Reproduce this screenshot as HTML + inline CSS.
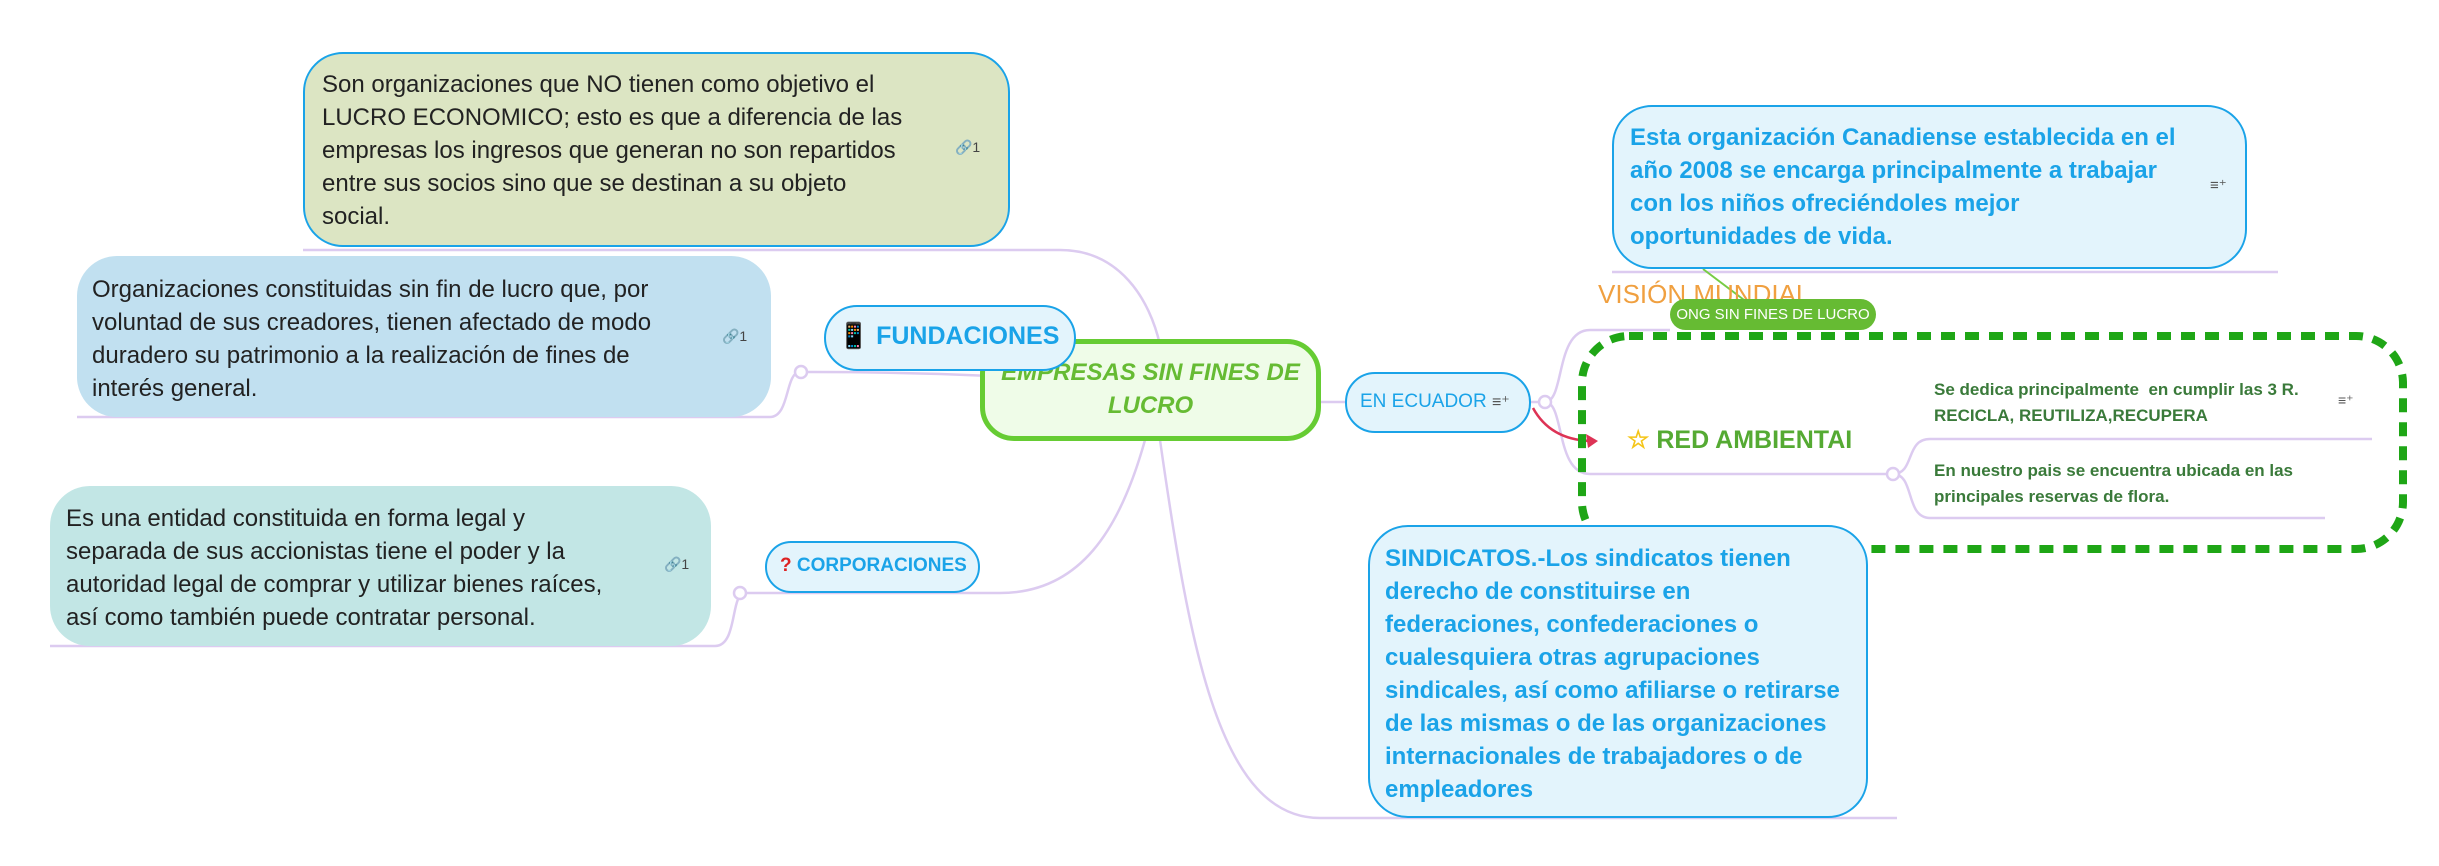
<!DOCTYPE html>
<html><head><meta charset="utf-8"><style>
body{margin:0;width:2439px;height:866px;background:#fff;position:relative;overflow:hidden;font-family:"Liberation Sans",sans-serif}
.b{position:absolute;box-sizing:border-box}
.t{position:absolute;white-space:nowrap}
</style></head><body>
<svg width="2439" height="866" style="position:absolute;left:0;top:0">
<g fill="none" stroke="#dccbf0" stroke-width="2.5">
<path d="M303 250 H1060 C1120 250 1150 300 1160 345"/>
<path d="M1150 395 C1110 375 880 372 812 372"/>
<path d="M812 372 H800 C785 372 790 417 770 417 H77"/>
<path d="M1145 440 C1120 530 1080 593 1000 593 H745 C730 593 738 646 715 646 H50"/>
<path d="M1160 440 C1190 650 1220 818 1320 818 H1897"/>
<path d="M1321 402 H1345"/>
<path d="M1531 402 H1545 C1565 402 1555 330 1590 330 H1670"/>
<path d="M1545 402 C1565 402 1555 474 1590 474 H1892"/>
<path d="M1612 272 H2278"/>
<path d="M1893 474 C1915 474 1905 439 1930 439 H2372"/>
<path d="M1893 474 C1915 474 1905 518 1930 518 H2325"/>
</g>
<g fill="#fff" stroke="#dccbf0" stroke-width="2.5">
<circle cx="801" cy="372" r="6"/><circle cx="740" cy="593" r="6"/><circle cx="1545" cy="402" r="6"/><circle cx="1893" cy="474" r="6"/>
</g>
<path d="M1533 408 C1545 430 1565 440 1590 441" fill="none" stroke="#dd3355" stroke-width="2.5"/>
<path d="M1598 441 L1586 434 L1588 448 Z" fill="#dd3355"/>
<path d="M1703 269 L1760 312" stroke="#77cc44" stroke-width="2"/>
<rect x="1582" y="336" width="821" height="213" rx="47" fill="none" stroke="#1fa616" stroke-width="8" stroke-dasharray="14 10"/>
</svg>

<div class="b" style="left:303px;top:52px;width:707px;height:195px;background:#dce5c3;border:2px solid #1aa3e8;border-radius:40px"></div>
<div class="t" style="left:322px;top:68px;font-size:24px;line-height:33px;color:#222">Son organizaciones que NO tienen como objetivo el<br>LUCRO ECONOMICO; esto es que a diferencia de las<br>empresas los ingresos que generan no son repartidos<br>entre sus socios sino que se destinan a su objeto<br>social.</div>
<div class="t" style="left:955px;top:139px;font-size:14px;color:#444">🔗1</div>

<div class="b" style="left:77px;top:256px;width:694px;height:161px;background:#c1e0f0;border-radius:40px"></div>
<div class="t" style="left:92px;top:273px;font-size:24px;line-height:33px;color:#222">Organizaciones constituidas sin fin de lucro que, por<br>voluntad de sus creadores, tienen afectado de modo<br>duradero su patrimonio a la realización de fines de<br>interés general.</div>
<div class="t" style="left:722px;top:328px;font-size:14px;color:#444">🔗1</div>

<div class="b" style="left:50px;top:486px;width:661px;height:160px;background:#c2e6e5;border-radius:40px"></div>
<div class="t" style="left:66px;top:502px;font-size:24px;line-height:33px;color:#222">Es una entidad constituida en forma legal y<br>separada de sus accionistas tiene el poder y la<br>autoridad legal de comprar y utilizar bienes raíces,<br>así como también puede contratar personal.</div>
<div class="t" style="left:664px;top:556px;font-size:14px;color:#444">🔗1</div>

<div class="b" style="left:980px;top:339px;width:341px;height:102px;background:#effce8;border:5px solid #66cc33;border-radius:34px"></div>
<div class="t" style="left:980px;top:356px;width:341px;text-align:center;font-size:24px;line-height:33px;font-weight:bold;font-style:italic;color:#66bb33">EMPRESAS SIN FINES DE<br>LUCRO</div>

<div class="b" style="left:824px;top:305px;width:252px;height:66px;background:#e3f4fc;border:2px solid #1aa3e8;border-radius:33px"></div>
<div class="t" style="left:838px;top:322px;font-size:25px;font-weight:bold;color:#1aa3e8">📱 FUNDACIONES</div>

<div class="b" style="left:765px;top:541px;width:215px;height:52px;background:#e3f4fc;border:2px solid #1aa3e8;border-radius:26px"></div>
<div class="t" style="left:780px;top:555px;font-size:19px;font-weight:bold;color:#1aa3e8"><span style="color:#dd2222">?</span> CORPORACIONES</div>

<div class="b" style="left:1345px;top:372px;width:186px;height:61px;background:#e3f4fc;border:2px solid #1aa3e8;border-radius:30px"></div>
<div class="t" style="left:1360px;top:391px;font-size:19px;color:#1aa3e8">EN ECUADOR <span style="color:#555;font-size:16px">≡⁺</span></div>

<div class="b" style="left:1612px;top:105px;width:635px;height:164px;background:#e3f4fc;border:2px solid #1aa3e8;border-radius:40px"></div>
<div class="t" style="left:1630px;top:121px;font-size:24px;line-height:33px;font-weight:bold;color:#1aa3e8">Esta organización Canadiense establecida en el<br>año 2008 se encarga principalmente a trabajar<br>con los niños ofreciéndoles mejor<br>oportunidades de vida.</div>
<div class="t" style="left:2210px;top:176px;font-size:15px;color:#555">≡⁺</div>

<div class="t" style="left:1598px;top:279px;font-size:26px;color:#f0a040">VISIÓN MUNDIAL</div>
<div class="b" style="left:1670px;top:299px;width:206px;height:31px;background:#66bb33;border-radius:16px"></div>
<div class="t" style="left:1670px;top:306px;width:206px;text-align:center;font-size:15px;color:#fff">ONG SIN FINES DE LUCRO</div>

<div class="t" style="left:1627px;top:425px;font-size:25px;font-weight:bold;color:#55aa33"><span style="color:#f5c518">☆</span> RED AMBIENTAI</div>
<div class="t" style="left:1934px;top:377px;font-size:17px;line-height:26px;font-weight:bold;color:#3a7a3a">Se dedica principalmente &nbsp;en cumplir las 3 R.<br>RECICLA, REUTILIZA,RECUPERA</div>
<div class="t" style="left:2338px;top:392px;font-size:14px;color:#555">≡⁺</div>
<div class="t" style="left:1934px;top:458px;font-size:17px;line-height:26px;font-weight:bold;color:#3a7a3a">En nuestro pais se encuentra ubicada en las<br>principales reservas de flora.</div>

<div class="b" style="left:1368px;top:525px;width:500px;height:293px;background:#e3f4fc;border:2px solid #1aa3e8;border-radius:40px"></div>
<div class="t" style="left:1385px;top:542px;font-size:24px;line-height:33px;font-weight:bold;color:#1aa3e8">SINDICATOS.-Los sindicatos tienen<br>derecho de constituirse en<br>federaciones, confederaciones o<br>cualesquiera otras agrupaciones<br>sindicales, así como afiliarse o retirarse<br>de las mismas o de las organizaciones<br>internacionales de trabajadores o de<br>empleadores</div>
</body></html>
